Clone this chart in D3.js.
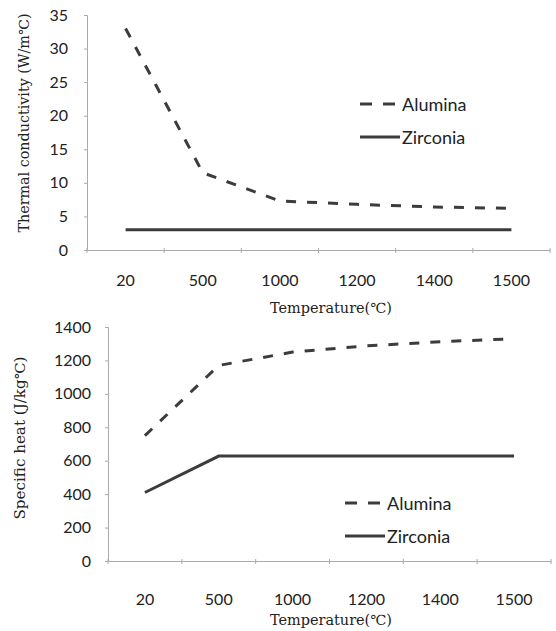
<!DOCTYPE html>
<html>
<head>
<meta charset="utf-8">
<script src="https://cdn.jsdelivr.net/npm/d3@7"></script>
<style>
  body { margin: 0; background: #fff; }
  .tick text { font-family: Lato, 'Open Sans', sans-serif; font-size: 16px; fill: #222; }
  .title { font-family: 'DejaVu Serif', serif; font-size: 14px; fill: #222; }
  .legend text { font-family: Lato, 'Open Sans', sans-serif; font-size: 18px; fill: #222; }
</style>
</head>
<body>
<svg id="chart" width="556" height="631"></svg>
<script>
const temps = ['20', '500', '1000', '1200', '1400', '1500']

// thermal conductivity (W/m C)
const kAlumina = [33, 11.5, 7.3, 6.8, 6.4, 6.2]
const kZirconia = [3, 3, 3, 3, 3, 3]
const kTicks = [0, 5, 10, 15, 20, 25, 30, 35]

// specific heat (J/kg C)
const cAlumina = [750, 1170, 1250, 1287, 1312, 1330]
const cZirconia = [410, 628, 628, 628, 628, 628]
const cTicks = [0, 200, 400, 600, 800, 1000, 1200, 1400]

const seriesNames = ['Alumina', 'Zirconia']

const svg = d3.select('#chart')
const ink = '#3c3c3c'

function panel (opt) {
  const x = d3.scaleBand().domain(temps).range(opt.xRange)
  const y = d3.scaleLinear().domain([0, opt.yMax]).range(opt.yRange)
  const g = svg.append('g')

  // axes
  const yAxis = g.append('g')
    .attr('transform', `translate(${opt.xRange[0]},0)`)
    .call(d3.axisLeft(y).tickValues(opt.ticks).tickFormat(d3.format('d')).tickSize(3).tickPadding(opt.yPad))
  const xAxis = g.append('g')
    .attr('transform', `translate(0,${opt.yRange[0]})`)
    .call(d3.axisBottom(x).tickSize(0).tickPadding(opt.xPad))
  ;[yAxis, xAxis].forEach(a => {
    a.select('.domain').attr('stroke', '#aaa')
    a.selectAll('.tick line').attr('stroke', '#aaa')
  })
  // category separators, like excel "between tick marks"
  xAxis.selectAll('.sep')
    .data(d3.range(temps.length + 1))
    .join('line')
    .attr('x1', i => opt.xRange[0] + i * x.step())
    .attr('x2', i => opt.xRange[0] + i * x.step())
    .attr('y1', -2).attr('y2', 3)
    .attr('stroke', '#aaa')

  const line = d3.line()
    .x((d, i) => x(temps[i]) + x.bandwidth() / 2)
    .y(d => y(d))

  g.append('path').datum(opt.a)
    .attr('d', line).attr('fill', 'none')
    .attr('stroke', ink).attr('stroke-width', 3).attr('stroke-dasharray', '10,11')
  g.append('path').datum(opt.z)
    .attr('d', line).attr('fill', 'none')
    .attr('stroke', ink).attr('stroke-width', 3)

  // titles
  g.append('text').attr('class', 'title')
    .attr('transform', `translate(${opt.yTitlePos[0]},${opt.yTitlePos[1]}) rotate(-90)`)
    .attr('text-anchor', 'middle').attr('dominant-baseline', 'central')
    .attr('textLength', opt.yTitleLen).attr('lengthAdjust', 'spacingAndGlyphs')
    .text(opt.yTitle)
  g.append('text').attr('class', 'title')
    .attr('x', 270).attr('y', opt.xTitleY)
    .attr('dominant-baseline', 'central')
    .attr('textLength', 122).attr('lengthAdjust', 'spacingAndGlyphs')
    .text('Temperature(℃)')

  // legend
  const lg = g.append('g').attr('class', 'legend')
  seriesNames.forEach((name, i) => {
    const ly = opt.legend[1] + i * 33
    lg.append('line')
      .attr('x1', opt.legend[0]).attr('x2', opt.legend[0] + 40)
      .attr('y1', ly).attr('y2', ly)
      .attr('stroke', ink).attr('stroke-width', 3)
      .attr('stroke-dasharray', i === 0 ? '12,11' : null)
    lg.append('text')
      .attr('x', opt.legend[0] + 42).attr('y', ly)
      .attr('dominant-baseline', 'central')
      .text(name)
  })
}

panel({
  xRange: [87, 550], yRange: [250, 15], yMax: 35, ticks: kTicks,
  a: kAlumina, z: kZirconia, yPad: 16, xPad: 25,
  yTitle: 'Thermal conductivity (W/m℃)', yTitlePos: [24, 123], yTitleLen: 219,
  xTitleY: 308, legend: [360, 104]
})

panel({
  xRange: [108, 551], yRange: [561, 327], yMax: 1400, ticks: cTicks,
  a: cAlumina, z: cZirconia, yPad: 14, xPad: 33,
  yTitle: 'Specific heat (J/kg℃)', yTitlePos: [20, 438], yTitleLen: 163,
  xTitleY: 620, legend: [345, 503]
})
</script>
</body>
</html>
